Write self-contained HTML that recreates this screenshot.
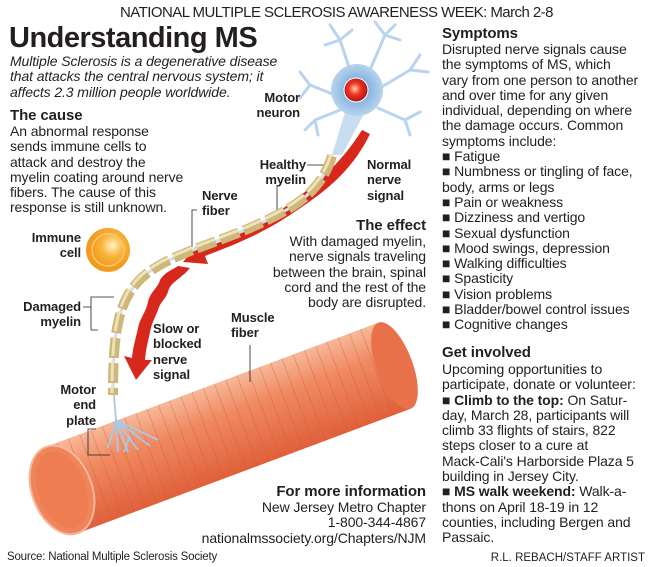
<!DOCTYPE html>
<html><head><meta charset="utf-8"><style>
body{margin:0;background:#fff;}
#c{position:relative;width:650px;height:567px;overflow:hidden;font-family:"Liberation Sans",sans-serif;color:#231f20;}
.t{position:absolute;white-space:nowrap;font-size:14px;line-height:15.3px;letter-spacing:-0.1px;}
.b{font-weight:bold;}
.r{text-align:right;}
svg{position:absolute;left:0;top:0;}
</style></head><body><div id="c">
<svg width="650" height="567" viewBox="0 0 650 567">
<defs>
<linearGradient id="mus" x1="0" y1="0" x2="0" y2="1">
<stop offset="0" stop-color="#f7b99a"/><stop offset="0.35" stop-color="#f08a62"/><stop offset="1" stop-color="#e0603a"/></linearGradient>
<radialGradient id="imm" cx="0.6" cy="0.4"><stop offset="0" stop-color="#fff3c8"/><stop offset="0.5" stop-color="#f9b43c"/><stop offset="1" stop-color="#f29a1e"/></radialGradient>
<radialGradient id="nuc" cx="0.45" cy="0.45"><stop offset="0" stop-color="#ffd0a0"/><stop offset="0.5" stop-color="#ee3524"/><stop offset="1" stop-color="#b71c1c"/></radialGradient>
<radialGradient id="body" cx="0.5" cy="0.5"><stop offset="0" stop-color="#5e9ad8"/><stop offset="1" stop-color="#b8d4ee"/></radialGradient>
</defs>
<!-- muscle -->
<g transform="translate(62,490) rotate(-20.5)">
<rect x="0" y="-46" width="355" height="92" fill="url(#mus)"/>
<g stroke="#c85a3a" stroke-width="0.6" opacity="0.55">
<path d="M12 -46v92M24 -46v92M36 -46v92M48 -46v92M60 -46v92M72 -46v92M84 -46v92M96 -46v92M108 -46v92M120 -46v92M132 -46v92M144 -46v92M156 -46v92M168 -46v92M180 -46v92M192 -46v92M204 -46v92M216 -46v92M228 -46v92M240 -46v92M252 -46v92M264 -46v92M276 -46v92M288 -46v92M300 -46v92M312 -46v92M324 -46v92M336 -46v92"/></g>
<ellipse cx="355" cy="0" rx="18" ry="46" fill="#e8714a"/>
<ellipse cx="0" cy="0" rx="30" ry="46" fill="#f0855c" stroke="#f6b79a" stroke-width="2"/>
<ellipse cx="0" cy="0" rx="24" ry="40" fill="#ee7a50" opacity="0.8"/>
</g>
<!-- label lines -->
<g stroke="#231f20" stroke-width="0.8" fill="none">
<path d="M250 382V345"/><path d="M307 165H330"/><path d="M277 185V212"/><path d="M197 210H192V247"/>
<path d="M83 307H91V297H114M91 307V330H98"/><path d="M96 429H88V455H110"/>
</g>
<!-- neuron -->
<g stroke="#b8d4ee" stroke-width="3" fill="none" stroke-linecap="round">
<path d="M350 70L340 40L330 25M340 40L352 30M340 40L325 45"/>
<path d="M370 70L385 35L395 25M385 35L400 40M385 35L375 22"/>
<path d="M380 88L410 70L420 55M410 70L428 72"/>
<path d="M378 108L405 120L420 112M405 120L410 135"/>
<path d="M335 95L310 85L300 72M310 85L300 98"/>
<path d="M340 110L315 120L305 130M315 120L318 135"/>
</g>
<path d="M345 112L332 155L342 155L365 112Z" fill="#c9ddf1"/>
<circle cx="357" cy="90" r="26" fill="url(#body)"/>
<circle cx="356" cy="90" r="12" fill="url(#nuc)" stroke="#fff" stroke-width="1"/>
<!-- red arrow 1 -->
<path d="M362 130L370 134C350 175 320 195 290 215C255 238 225 248 205 256L208 264L183 262L198 244L201 250C225 240 255 228 285 207C315 185 340 165 362 130Z" fill="#d8281c"/>
<!-- red arrow 2 -->
<path d="M178 266L190 268C180 280 170 282 168 292C165 300 160 302 158 310C155 318 152 322 150 332C148 342 146 348 145 360L152 360L136 380L124 356L132 358C133 346 136 338 138 328C140 318 146 312 148 302C150 292 158 288 160 280C165 272 172 270 178 266Z" fill="#d8281c"/>
<!-- myelin chain -->
<path d="M332 156C320 195 290 210 250 228C210 245 170 255 145 275C118 298 113 330 113 395" stroke="#cfe0ee" stroke-width="3" fill="none"/>
<path d="M332 156C320 195 290 210 250 228C210 245 170 255 145 275C118 298 113 330 113 395" stroke="#cdb77a" stroke-width="10" fill="none" stroke-dasharray="20 5"/>
<path d="M332 156C320 195 290 210 250 228C210 245 170 255 145 275C118 298 113 330 113 395" stroke="#efe2b8" stroke-width="3" fill="none" stroke-dasharray="20 5" transform="translate(-1,-2)"/>
<!-- end plate -->
<g stroke="#a9c8e6" stroke-width="1.8" fill="none">
<path d="M114 395L116 420M116 420L108 448M116 420L118 452M116 420L128 452M116 420L138 450M116 420L150 446M116 420L158 440M130 436L124 452"/>
</g>
<!-- immune cell -->
<circle cx="108" cy="250" r="22" fill="url(#imm)"/>
<circle cx="108" cy="250" r="16" fill="none" stroke="#f8c76a" stroke-width="1.5"/>
</svg>

<div class="t" style="left:120px;top:5px;font-size:15px;letter-spacing:-0.55px">NATIONAL MULTIPLE SCLEROSIS AWARENESS WEEK: March 2-8</div>
<div class="t b" style="left:9px;top:21px;font-size:29px;line-height:34px;letter-spacing:-0.5px">Understanding MS</div>
<div class="t" style="left:10px;top:54px;font-style:italic">Multiple Sclerosis is a degenerative disease<br>that attacks the central nervous system; it<br>affects 2.3 million people worldwide.</div>
<div class="t b" style="left:10px;top:108px;font-size:15px">The cause</div>
<div class="t" style="left:10px;top:124px">An abnormal response<br>sends immune cells to<br>attack and destroy the<br>myelin coating around nerve<br>fibers. The cause of this<br>response is still unknown.</div>
<div class="t b r" style="right:350px;top:90px;font-size:13px">Motor<br>neuron</div>
<div class="t b r" style="right:344px;top:157px;font-size:13px">Healthy<br>myelin</div>
<div class="t b" style="left:367px;top:157px;font-size:13px">Normal<br>nerve<br>signal</div>
<div class="t b" style="left:202px;top:188px;font-size:13px">Nerve<br>fiber</div>
<div class="t b r" style="right:569px;top:230px;font-size:13px">Immune<br>cell</div>
<div class="t b r" style="right:569px;top:299px;font-size:13px">Damaged<br>myelin</div>
<div class="t b" style="left:153px;top:321px;font-size:13px">Slow or<br>blocked<br>nerve<br>signal</div>
<div class="t b" style="left:231px;top:310px;font-size:13px">Muscle<br>fiber</div>
<div class="t b r" style="right:554px;top:382px;font-size:13px">Motor<br>end<br>plate</div>
<div class="t b r" style="right:224px;top:218px;font-size:15px">The effect</div>
<div class="t r" style="right:224px;top:234px">With damaged myelin,<br>nerve signals traveling<br>between the brain, spinal<br>cord and the rest of the<br>body are disrupted.</div>
<div class="t b r" style="right:224px;top:484px;font-size:15px">For more information</div>
<div class="t r" style="right:224px;top:500px">New Jersey Metro Chapter<br>1-800-344-4867<br>nationalmssociety.org/Chapters/NJM</div>
<div class="t b" style="left:442px;top:26px;font-size:15px">Symptoms</div>
<div class="t" style="left:442px;top:42px">Disrupted nerve signals cause<br>the symptoms of MS, which<br>vary from one person to another<br>and over time for any given<br>individual, depending on where<br>the damage occurs. Common<br>symptoms include:<br>■ Fatigue<br>■ Numbness or tingling of face,<br>body, arms or legs<br>■ Pain or weakness<br>■ Dizziness and vertigo<br>■ Sexual dysfunction<br>■ Mood swings, depression<br>■ Walking difficulties<br>■ Spasticity<br>■ Vision problems<br>■ Bladder/bowel control issues<br>■ Cognitive changes</div>
<div class="t b" style="left:442px;top:345px;font-size:15px">Get involved</div>
<div class="t" style="left:442px;top:362px">Upcoming opportunities to<br>participate, donate or volunteer:<br><b>■ Climb to the top:</b> On Satur-<br>day, March 28, participants will<br>climb 33 flights of stairs, 822<br>steps closer to a cure at<br>Mack-Cali's Harborside Plaza 5<br>building in Jersey City.<br><b>■ MS walk weekend:</b> Walk-a-<br>thons on April 18-19 in 12<br>counties, including Bergen and<br>Passaic.</div>
<div class="t" style="left:7px;top:550px;font-size:11.5px;letter-spacing:-0.2px">Source: National Multiple Sclerosis Society</div>
<div class="t" style="right:5px;top:551px;font-size:11.5px;letter-spacing:0px">R.L. REBACH/STAFF ARTIST</div>
</div></body></html>
